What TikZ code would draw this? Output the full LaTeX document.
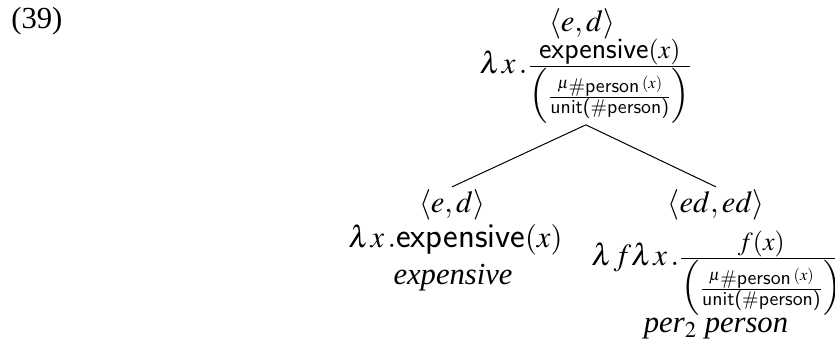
\documentclass[tikz,border=0pt]{standalone}
\usepackage{amsmath}
\usepackage{mathptmx}
\usepackage[no-math]{fontspec}
\setmainfont{Liberation Serif}
\setsansfont{Latin Modern Sans}[Scale=1.14]
\newcommand{\sfx}[1]{\textsf{#1}}
\newcommand{\lam}{\lambda\mkern1mu}
\newcommand{\dt}{\mkern2mu.}
\newcommand{\numtxt}[1]{\mbox{\fontsize{13}{15}\selectfont #1}}
\newcommand{\inner}{\Big(\frac{\mbox{\fontsize{8.2}{9}\selectfont$\mu$\raisebox{-1.8pt}{\fontsize{8.7}{10}\selectfont\textsf{\#person}}\,$(x)$}}{\mbox{\fontsize{8.7}{10}\selectfont\textsf{unit(\#person)}}}\Big)}
\begin{document}
\begin{tikzpicture}[x=0.5pt,y=-0.5pt,
  every node/.style={font=\fontsize{15.3}{18}\selectfont, inner sep=0pt},
  edge/.style={line width=0.5pt}]
\useasboundingbox (0,0) rectangle (835,341);
\node[anchor=base west] (num) at (11,29) {(39)};
% root
\node[anchor=base] (p1) at (582,32) {$\langle e,d\rangle$};
\node[anchor=base west, inner sep=0.6pt] (p2) at (478,74) {$\lam x\dt\frac{\numtxt{\textsf{expensive}$(x)$}}{\inner}$};
% left child
\node[anchor=base, inner sep=1.5pt] (l1) at (452,213) {$\langle e,d\rangle$};
\node[anchor=base west] (l2) at (348,248) {$\lam x\dt\sfx{expensive}(x)$};
\node[anchor=base] (l3) at (453,285) {\textit{expensive}};
% right child
\node[anchor=base, inner sep=1.5pt] (r1) at (716,213) {$\langle ed,ed\rangle$};
\node[anchor=base west] (r2) at (591,266) {$\lam f\lam x\dt\frac{\numtxt{$f(x)$}}{\inner}$};
\node[anchor=base] (r3) at (716,333) {\textit{per}$_2$ \textit{person}};
\draw[edge] (p2.south) -- (l1.north);
\draw[edge] (p2.south) -- (r1.north);
\end{tikzpicture}
\end{document}
